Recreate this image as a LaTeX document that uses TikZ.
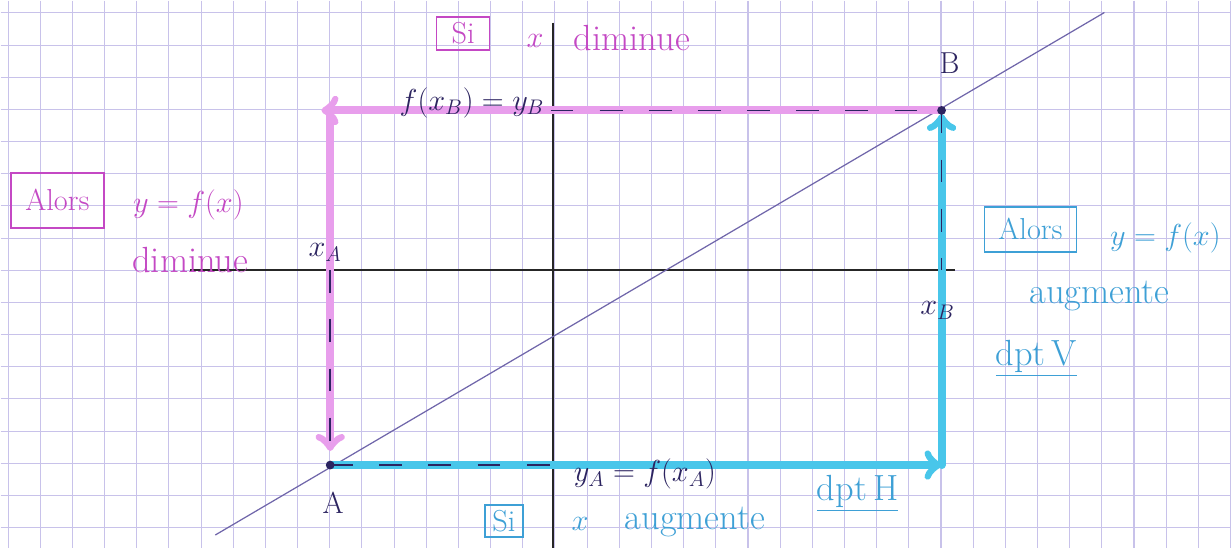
\documentclass[tikz,border=0pt]{standalone}
\usepackage{tikz}
\usetikzlibrary{positioning, arrows}

\definecolor{quadrillage}{RGB}{200,194,234}
\definecolor{surligneRose}{RGB}{232,158,236}
\definecolor{surligneBleu}{RGB}{72,198,234}
\definecolor{encreRose}{RGB}{196,72,196}
\definecolor{encreBleu}{RGB}{62,160,214}
\definecolor{encre}{RGB}{44,36,96}
\definecolor{droite}{RGB}{112,102,170}

\begin{document}
\begin{tikzpicture}[x=0.02cm, y=-0.02cm]
      % Define styles for lines and labels
      \tikzset{
        gridline/.style={draw=quadrillage, line width=0.6pt},
        axisline/.style={draw=black!85, line width=1.3pt},
        diagline/.style={draw=droite, line width=0.7pt},
        pinkpath/.style={draw=surligneRose, line width=4.5pt, ->, line cap=round},
        bluepath/.style={draw=surligneBleu, line width=4.5pt, ->, line cap=round},
        guide/.style={draw=encre, line width=1pt, dash pattern=on 13pt off 15pt},
        inkdot/.style={circle, fill=encre, inner sep=0pt, minimum size=5pt},
        inktext/.style={text=encre, font=\LARGE},
        pinktext/.style={text=encreRose, font=\huge},
        bluetext/.style={text=encreBleu, font=\huge},
        pinkbox/.style={rectangle, draw=encreRose, line width=1pt, text=encreRose, font=\LARGE, inner sep=3pt},
        bluebox/.style={rectangle, draw=encreBleu, line width=1pt, text=encreBleu, font=\LARGE, inner sep=3pt}
      }

      % Paper and grid
      \fill[white] (0,0) rectangle (1231,548);
      \foreach \k in {0,...,38}
        \draw[gridline] ({7.6+32.2*\k},0) -- ({7.6+32.2*\k},548);
      \foreach \k in {0,...,16}
        \draw[gridline] (0,{12.4+32.2*\k}) -- (1231,{12.4+32.2*\k});

      % Axes and the straight line
      \coordinate (O) at (553,270);
      \coordinate (xgauche) at (190,270);
      \coordinate (xdroite) at (955,270);
      \coordinate (yhaut) at (553,22);
      \coordinate (ybas) at (553,548);
      \draw[axisline] (xgauche) -- (xdroite);
      \draw[axisline] (yhaut) -- (ybas);

      \coordinate (d1) at (215,535);
      \coordinate (d2) at (1105,12);
      \draw[diagline] (d1) -- (d2);

      % Points and corners
      \coordinate (A) at (330,465);
      \coordinate (B) at (942,110);
      \coordinate (hautG) at (330,110);
      \coordinate (basD) at (942,465);

      % Highlighted paths
      \draw[pinkpath, shorten >=-5pt] (B) -- (hautG);
      \draw[pinkpath, shorten >=8pt] (hautG) -- (A);
      \draw[bluepath] (A) -- (basD);
      \draw[bluepath, shorten >=2pt] (basD) -- (B);

      % Labels in ink
      \node[inktext] (fxb) at (472,102) {$f(x_B) = y_B$};
      \node[inktext] (lxa) at (325,252) {$x_A$};
      \node[inktext] (lxb) at (938,310) {$x_B$};
      \node[inktext] (lA) at (333,503) {A};
      \node[inktext] (lB) at (950,63) {B};
      \node[inktext] (yfa) at (645,474) {$y_A = f(x_A)$};

      % Dashed guides
      \draw[guide] (fxb.east |- B) -- (B);
      \draw[guide] (A |- O) -- (A);
      \draw[guide] (A) -- (A -| O);
      \draw[guide] (B) -- (B |- O);
      \node[inkdot] (pA) at (A) {};
      \node[inkdot] (pB) at (B) {};

      % Top annotation
      \node[pinkbox, minimum width=1.06cm, minimum height=0.66cm] (siH) at (463,33) {Si};
      \node[pinktext, font=\LARGE, right=0.6cm of siH, yshift=-4pt] (xH) {$x$};
      \node[pinktext] (dimH) at (632,38) {diminue};

      % Left annotation
      \node[pinkbox, minimum width=1.86cm, minimum height=1.1cm] (alorsG) at (57,200) {Alors};
      \node[pinktext, font=\LARGE] (yfG) at (188,205) {$y=f(x)$};
      \node[pinktext] (dimG) at (190,260) {diminue};

      % Right annotation
      \node[bluebox, minimum width=1.84cm, minimum height=0.9cm] (alorsD) at (1031,229) {Alors};
      \node[bluetext, font=\LARGE] (yfD) at (1166,238) {$y=f(x)$};
      \node[bluetext] (augD) at (1100,296) {augmente};
      \node[bluetext] (dptV) at (1037,358) {\underline{dpt\,V}};

      % Bottom annotation
      \node[bluebox, minimum width=0.76cm, minimum height=0.64cm] (siB) at (504,521) {Si};
      \node[bluetext, font=\LARGE] (xB) at (580,524) {$x$};
      \node[bluetext] (augB) at (695,522) {augmente};
      \node[bluetext] (dptH) at (858,493) {\underline{dpt\,H}};
    \end{tikzpicture}
\end{document}
